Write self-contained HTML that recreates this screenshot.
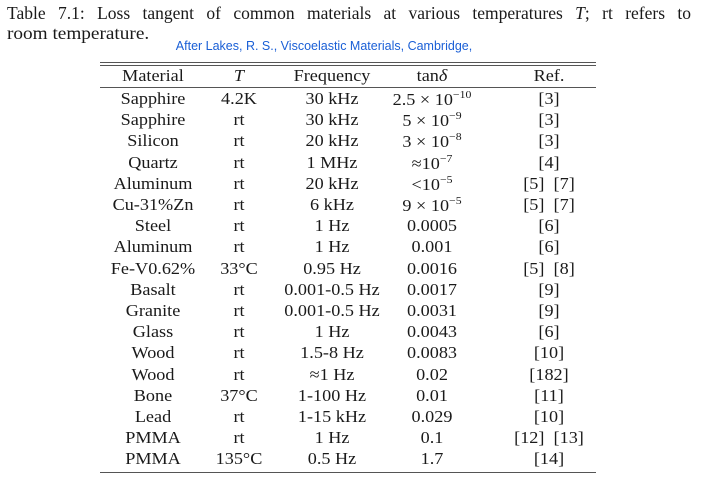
<!DOCTYPE html>
<html><head><meta charset="utf-8"><style>
body{margin:0;width:701px;height:485px;background:#fff;position:relative;overflow:hidden;font-family:"Liberation Serif",serif;color:#1a1a1a}
.cap{position:absolute;left:7px;font-size:17.5px;white-space:nowrap}
.src{position:absolute;left:0;width:648px;text-align:center;top:39px;font-family:"Liberation Sans",sans-serif;font-size:12.5px;color:#1a5fd6}
.r{position:absolute;left:0;width:701px;height:20px;font-size:17px}
.r span{position:absolute;top:0;transform:translateX(-50%) scaleX(1.07);white-space:nowrap}
.hl{position:absolute;left:100px;width:496px;background:#555}
sup{font-size:11px;vertical-align:7px}
</style></head><body>
<div class="cap" style="top:3px;word-spacing:8px">Table 7.1: Loss tangent of common materials at various temperatures <i>T</i>; rt refers to</div>
<div class="cap" style="top:23px;transform:scaleX(1.1);transform-origin:0 0">room temperature.</div>
<div class="src">After Lakes, R. S., Viscoelastic Materials, Cambridge,</div>
<div class="hl" style="top:62px;height:1px"></div>
<div class="hl" style="top:65px;height:1px"></div>
<div class="hl" style="top:87px;height:1px"></div>
<div class="hl" style="top:472px;height:1px"></div>
<div id="t"></div>
<script>
var rows=[["Material","<i>T</i>","Frequency","tan<i>δ</i>","Ref."],
["Sapphire","4.2K","30 kHz","2.5 × 10<sup>−10</sup>","[3]"],
["Sapphire","rt","30 kHz","5 × 10<sup>−9</sup>","[3]"],
["Silicon","rt","20 kHz","3 × 10<sup>−8</sup>","[3]"],
["Quartz","rt","1 MHz","≈10<sup>−7</sup>","[4]"],
["Aluminum","rt","20 kHz","&lt;10<sup>−5</sup>","[5] &nbsp;[7]"],
["Cu-31%Zn","rt","6 kHz","9 × 10<sup>−5</sup>","[5] &nbsp;[7]"],
["Steel","rt","1 Hz","0.0005","[6]"],
["Aluminum","rt","1 Hz","0.001","[6]"],
["Fe-V0.62%","33°C","0.95 Hz","0.0016","[5] &nbsp;[8]"],
["Basalt","rt","0.001-0.5 Hz","0.0017","[9]"],
["Granite","rt","0.001-0.5 Hz","0.0031","[9]"],
["Glass","rt","1 Hz","0.0043","[6]"],
["Wood","rt","1.5-8 Hz","0.0083","[10]"],
["Wood","rt","≈1 Hz","0.02","[182]"],
["Bone","37°C","1-100 Hz","0.01","[11]"],
["Lead","rt","1-15 kHz","0.029","[10]"],
["PMMA","rt","1 Hz","0.1","[12] &nbsp;[13]"],
["PMMA","135°C","0.5 Hz","1.7","[14]"]];
var xs=[153,239,332,432,549],h="";
rows.forEach(function(r,i){var y=i==0?66:89+(i-1)*21.2;h+='<div class="r" style="top:'+y+'px">';
r.forEach(function(c,j){h+='<span style="left:'+xs[j]+'px">'+c+'</span>'});h+='</div>'});
document.getElementById("t").innerHTML=h;
</script>
</body></html>
